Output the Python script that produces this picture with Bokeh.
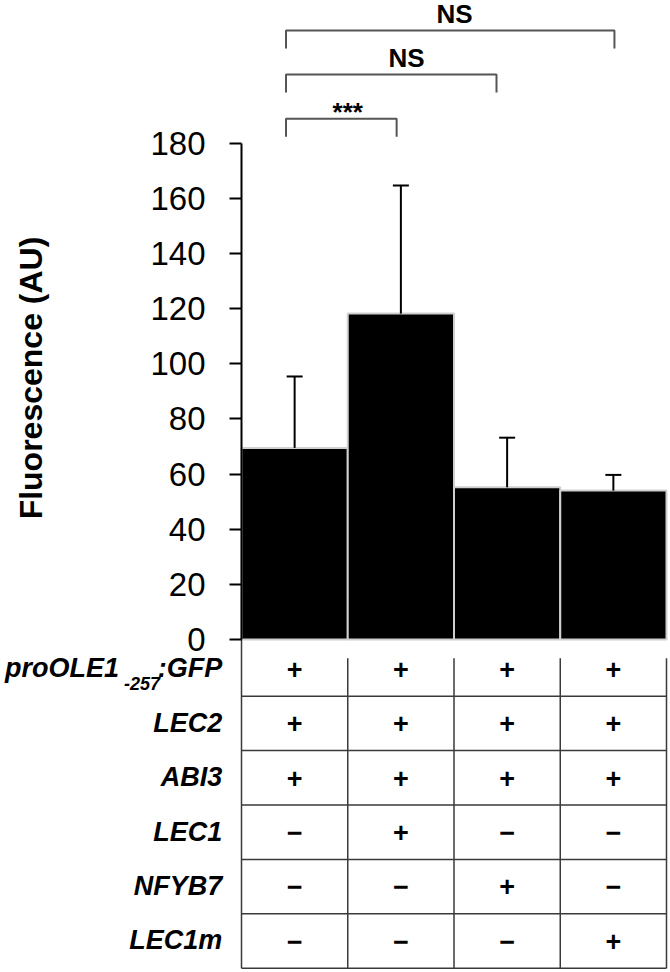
import math
from bokeh.plotting import figure
from bokeh.models import Range1d, FixedTicker, Whisker, TeeHead, ColumnDataSource, LinearAxis
from bokeh.core.properties import value
from bokeh.embed import file_html
from bokeh.resources import INLINE

# ---------------- data ----------------
conditions = [1, 2, 3, 4]
fluorescence = [69.5, 118.2, 55.2, 54.0]
error_upper = [25.9, 46.5, 18.0, 5.7]
y_ticks = [0, 20, 40, 60, 80, 100, 120, 140, 160, 180]
y_title = "Fluorescence (AU)"
row_labels = ["proOLE1", "LEC2", "ABI3", "LEC1", "NFYB7", "LEC1m"]
row_marks = [
    ["+", "+", "+", "+"],
    ["+", "+", "+", "+"],
    ["+", "+", "+", "+"],
    ["\u2212", "+", "\u2212", "\u2212"],
    ["\u2212", "\u2212", "+", "\u2212"],
    ["\u2212", "\u2212", "\u2212", "+"],
]
sig_labels = ["***", "NS", "NS"]
sig_pairs = [(1, 2), (1, 3), (1, 4)]

# ---------------- layout (page pixels) ----------------
W, H = 670, 972
AXIS_X = 241              # page px of the y axis (x = 0.5)
PX_X = 106.25             # px per x unit
PX_Y = 2.757              # px per y unit
Y0 = 639.0                # page px of y = 0
ROW_TOP = 641.3           # page px of table top
ROW_H = 54.4              # table row height (px)
FONT = "Liberation Sans"
BASE_FIX = 0.4            # baseline correction (fraction of font size)


def xr(px):
    return 0.5 + (px - AXIS_X) / PX_X


def yr(py):
    return (Y0 - py) / PX_Y


def yb(py, fs):
    """baseline position for a text of font size fs whose baseline is at page px py"""
    return yr(py - BASE_FIX * fs)


p = figure(width=W, height=H,
           x_range=Range1d(xr(0), xr(W)),
           y_range=Range1d(yr(H), yr(0)),
           x_axis_type=None, y_axis_location=None,
           output_backend="svg", toolbar_location=None,
           min_border_left=0, min_border_right=0,
           min_border_top=0, min_border_bottom=0)
p.outline_line_color = None
p.grid.visible = False

ax = LinearAxis(fixed_location=0.5)
ax.ticker = FixedTicker(ticks=y_ticks)
ax.bounds = (0, 180)
ax.major_tick_out = 12
ax.major_tick_in = 0
ax.minor_tick_out = 0
ax.minor_tick_in = 0
ax.axis_line_width = 2
ax.axis_line_color = "black"
ax.major_tick_line_width = 2
ax.major_tick_line_color = "black"
ax.major_label_text_font = FONT
ax.major_label_text_font_size = "33px"
ax.major_label_text_color = "black"
ax.major_label_standoff = 24
p.add_layout(ax, "left")

# y axis title
p.text(x=[xr(30)], y=[yr(377.5)], text=[y_title], angle=math.pi / 2,
       text_font=value(FONT), text_font_style="bold", text_font_size="32px",
       text_align="center", text_baseline="middle", text_color="black")

# bars
p.vbar(x=conditions, width=1, top=fluorescence, bottom=0,
       fill_color="black", line_color="#cfcfcf", line_width=2)

# error bars (upper only)
err_src = ColumnDataSource(dict(
    x=conditions, lower=fluorescence,
    upper=[m + e for m, e in zip(fluorescence, error_upper)]))
p.add_layout(Whisker(base="x", lower="lower", upper="upper", source=err_src,
                     dimension="height", line_width=2, line_color="black",
                     lower_head=None, level="annotation",
                     upper_head=TeeHead(size=16, line_width=2, line_color="black")))

# significance brackets
br_left = xr(285.5)
br_right_off = [-0.04, -0.10, 0.01]
br_level = [yr(118.3), yr(74.0), yr(30.0)]
br_leg = 6.5
br_text_x = [xr(347.3), xr(406.0), xr(454.0)]
br_text_y = [yb(122.0, 26), yb(68.3, 26), yb(24.0, 26)]
xs, ys = [], []
for (a, b), off, lv in zip(sig_pairs, br_right_off, br_level):
    x1 = b + off
    xs.append([br_left, br_left, x1, x1])
    ys.append([lv - br_leg, lv, lv, lv - br_leg])
p.multi_line(xs=xs, ys=ys, line_color="#555555", line_width=2)
p.text(x=br_text_x, y=br_text_y, text=sig_labels,
       text_font=value(FONT), text_font_style="bold", text_font_size="26px",
       text_align="center", text_baseline="alphabetic", text_color="black")

# ================= table =================
n_rows = len(row_labels)


def row_px(i, dy_px=0.0):
    return ROW_TOP + ROW_H * (i + 0.5) + dy_px


LINE = "#3a3a3a"
hy = [yr(ROW_TOP + ROW_H * (k + 1)) for k in range(n_rows)]
p.segment(x0=[0.5] * n_rows, y0=hy, x1=[4.5] * n_rows, y1=hy,
          line_color=LINE, line_width=1.5)
vx = [0.5, 1.5, 2.5, 3.5, 4.5]
vy0 = [0] + [yr(657.7)] * 4
p.segment(x0=vx, y0=vy0, x1=vx, y1=[hy[-1]] * 5,
          line_color=LINE, line_width=1.5)

mx, my, mt = [], [], []
for i, marks in enumerate(row_marks):
    for c, m in zip(conditions, marks):
        mx.append(c); my.append(yb(row_px(i, 11), 27)); mt.append(m)
p.text(x=mx, y=my, text=mt, text_font=value(FONT), text_font_style="bold",
       text_font_size="27px", text_align="center", text_baseline="alphabetic",
       text_color="black")

# row labels (first one has a subscript)
main_x, main_y, main_t = [], [], []
for i, lab in enumerate(row_labels):
    if i == 0:
        main_x += [xr(221.7), xr(118.5)]
        main_y += [yb(row_px(i, 10.2), 27)] * 2
        main_t += [":GFP", lab]
    else:
        main_x.append(xr(221.7)); main_y.append(yb(row_px(i, 10.2), 27)); main_t.append(lab)
p.text(x=main_x, y=main_y, text=main_t, text_font=value(FONT),
       text_font_style="bold italic", text_font_size="27px",
       text_align="right", text_baseline="alphabetic", text_color="black")
p.text(x=[xr(159.5)], y=[yb(row_px(0, 21.5), 18)], text=["-257"], text_font=value(FONT),
       text_font_style="bold italic", text_font_size="18px",
       text_align="right", text_baseline="alphabetic", text_color="black")

open("out.html", "w").write(file_html(p, INLINE))
